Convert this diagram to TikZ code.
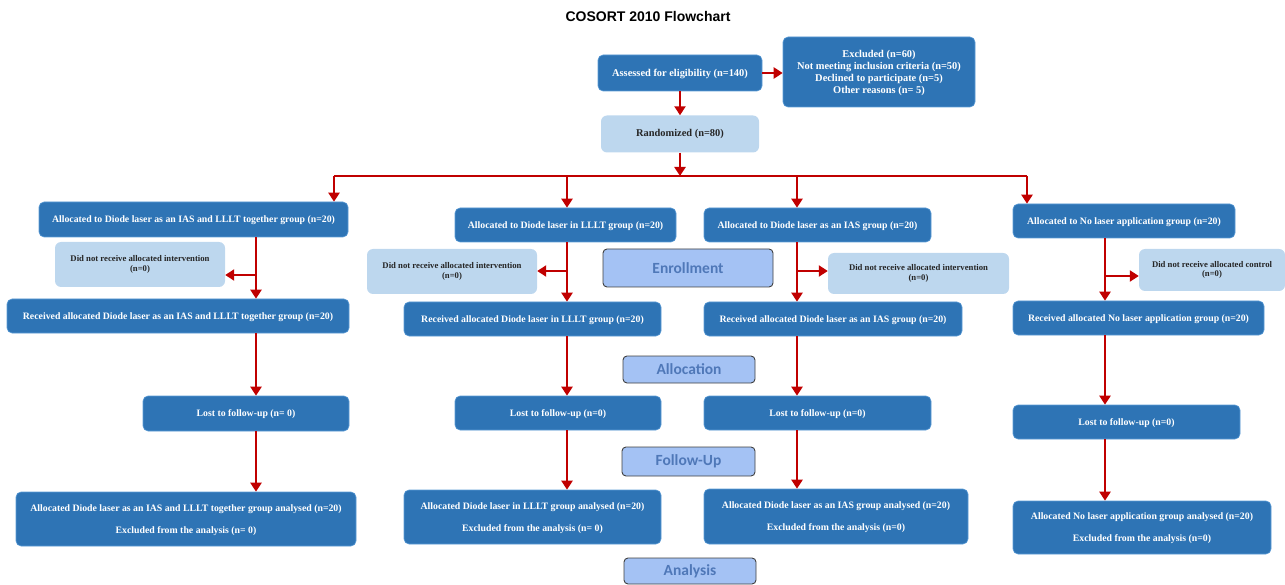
\documentclass[tikz,border=0pt]{standalone}
\usepackage{fontspec}
\setmainfont{Liberation Serif}
\newfontfamily\titlefont{Liberation Sans}
\newfontfamily\stagefont{Carlito}
\usetikzlibrary{arrows.meta}
\definecolor{boxblue}{HTML}{2E74B5}
\definecolor{boxedge}{HTML}{5B9BD5}
\definecolor{paleblue}{HTML}{BDD7EE}
\definecolor{stagefill}{HTML}{A4C2F4}
\definecolor{stagetext}{HTML}{4F78B8}
\definecolor{arrowred}{HTML}{C00000}
\begin{document}
\begin{tikzpicture}[x=1pt, y=-1pt,
                    box/.style={draw=boxedge, line width=0.6pt, fill=boxblue, rounded corners=5pt,
                      text=white, align=center, inner sep=0pt, text depth=0pt,
                      font=\bfseries\fontsize{9.8}{12}\selectfont},
                    top/.style={font=\bfseries\fontsize{10.4}{12}\selectfont},
                    pale/.style={fill=paleblue, rounded corners=6pt, text=black!85, align=center,
                      inner sep=0pt, font=\bfseries\fontsize{8.7}{9.5}\selectfont},
                    stage/.style={draw=black!75, line width=0.9pt, fill=stagefill, rounded corners=4pt,
                      text=stagetext, inner sep=0pt, font=\stagefont\bfseries\fontsize{15.5}{17}\selectfont},
                    link/.style={draw=arrowred, line width=2.6pt},
                    arr/.style={link, -{Triangle[length=9pt, width=11pt]}}]
  \useasboundingbox (0,0) rectangle (1285,585);
  \node (title) at (648,16) {\titlefont\bfseries\fontsize{14}{16}\selectfont COSORT 2010 Flowchart};
  \node[box, top, minimum width=164, minimum height=36] (assess) at (680,73) {Assessed for eligibility (n=140)};
  \node[box, top, minimum width=192, minimum height=70] (excl) at (879,72)
    {Excluded (n=60)\\Not meeting inclusion criteria (n=50)\\Declined to participate (n=5)\\Other reasons (n= 5)};
  \node[pale, top, minimum width=158, minimum height=37] (rand) at (680,134) {Randomized (n=80)};
  % allocated
  \node[box, minimum width=309, minimum height=35] (A1) at (193.5,219.5) {Allocated to Diode laser as an IAS and LLLT together group (n=20)};
  \node[box, minimum width=221, minimum height=34] (B1) at (565.5,225) {Allocated to Diode laser in LLLT group (n=20)};
  \node[box, minimum width=227, minimum height=34] (C1) at (817.5,225) {Allocated to Diode laser as an IAS group (n=20)};
  \node[box, minimum width=222, minimum height=34] (D1) at (1124,221) {Allocated to No laser application group (n=20)};
  % did not receive
  \node[pale, minimum width=170, minimum height=45] (A2) at (140,264.5) {Did not receive allocated intervention\\(n=0)};
  \node[pale, minimum width=170, minimum height=45] (B2) at (452,271.5) {Did not receive allocated intervention\\(n=0)};
  \node[pale, minimum width=181, minimum height=41] (C2) at (918.5,273.5) {Did not receive allocated intervention\\(n=0)};
  \node[pale, minimum width=146, minimum height=42] (D2) at (1212,270) {Did not receive allocated control\\(n=0)};
  % received
  \node[box, minimum width=342, minimum height=34] (A3) at (178,316) {Received allocated Diode laser as an IAS and LLLT together group (n=20)};
  \node[box, minimum width=257, minimum height=34] (B3) at (532.5,319) {Received allocated Diode laser in LLLT group (n=20)};
  \node[box, minimum width=258, minimum height=34] (C3) at (833,319) {Received allocated Diode laser as an IAS group (n=20)};
  \node[box, minimum width=251, minimum height=34] (D3) at (1138.5,318) {Received allocated No laser application group (n=20)};
  % lost
  \node[box, minimum width=206, minimum height=35] (A4) at (246,413.5) {Lost to follow-up (n= 0)};
  \node[box, minimum width=206, minimum height=34] (B4) at (558,413) {Lost to follow-up (n=0)};
  \node[box, minimum width=227, minimum height=34] (C4) at (817.5,413) {Lost to follow-up (n=0)};
  \node[box, minimum width=227, minimum height=34] (D4) at (1126.5,422) {Lost to follow-up (n=0)};
  % analysed
  \node[box, minimum width=340, minimum height=54] (A5) at (186,519)
    {Allocated Diode laser as an IAS and LLLT together group analysed (n=20)\\[10pt]Excluded from the analysis (n= 0)};
  \node[box, minimum width=257, minimum height=54] (B5) at (532.5,517)
    {Allocated Diode laser in LLLT group analysed (n=20)\\[10pt]Excluded from the analysis (n= 0)};
  \node[box, minimum width=264, minimum height=55] (C5) at (836,516.5)
    {Allocated Diode laser as an IAS group analysed (n=20)\\[10pt]Excluded from the analysis (n=0)};
  \node[box, minimum width=258, minimum height=53] (D5) at (1142,527.5)
    {Allocated No laser application group analysed (n=20)\\[10pt]Excluded from the analysis (n=0)};
  % stages
  \node[stage, minimum width=170, minimum height=38] (enroll) at (688,268) {Enrollment};
  \node[stage, minimum width=132, minimum height=27] (alloc) at (689,369.5) {Allocation};
  \node[stage, minimum width=133, minimum height=29] (follow) at (688.5,461.5) {Follow-Up};
  \node[stage, minimum width=132, minimum height=26] (analysis) at (690,571) {Analysis};
  % connectors
  \draw[arr] (assess.east) -- (excl.west |- assess.east);
  \draw[arr] (assess) -- (rand);
  \coordinate (busA) at (334,176);
  \coordinate (busB) at (567,176);
  \coordinate (busC) at (797,176);
  \coordinate (busD) at (1027,176);
  \draw[arr] (rand) -- (rand |- busA);
  \draw[link] (busA) -- (busD);
  \foreach \c in {A,B,C,D}
    \draw[arr] (bus\c) -- (bus\c |- \c1.north);
  \foreach \c/\tx/\ky/\side in {A/256/275/east, B/567/271/east, C/797/271/west, D/1105/276/west} {
    \coordinate (trunk\c) at (\tx,\ky);
    \draw[arr] (trunk\c |- \c1.south) -- (trunk\c |- \c3.north);
    \draw[arr] (trunk\c) -- (\c2.\side |- trunk\c);
    \draw[arr] (trunk\c |- \c3.south) -- (trunk\c |- \c4.north);
    \draw[arr] (trunk\c |- \c4.south) -- (trunk\c |- \c5.north);
  }
\end{tikzpicture}
\end{document}
